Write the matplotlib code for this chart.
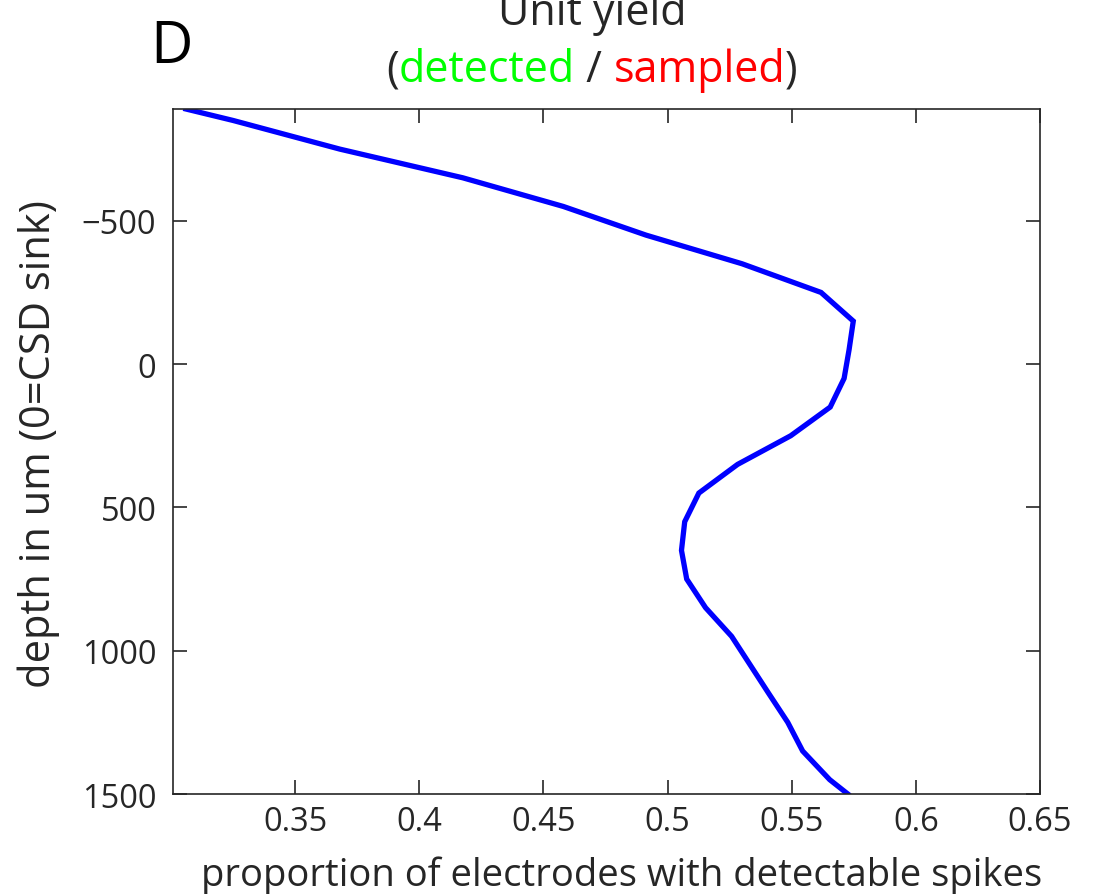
import matplotlib
matplotlib.use('Agg')
import matplotlib.pyplot as plt
import numpy as np

# depth profile of unit yield
depth_um = [-890, -850, -750, -650, -550, -450, -350, -250, -150, -50,
            50, 150, 250, 350, 450, 550, 650, 750, 850, 950,
            1050, 1150, 1250, 1350, 1450, 1500]
prop_detected = [0.306, 0.325, 0.368, 0.4175, 0.458, 0.4913, 0.530, 0.5618, 0.5748, 0.5731,
                 0.5711, 0.5655, 0.5496, 0.5282, 0.5126, 0.5069, 0.5056, 0.5077, 0.5153, 0.5258,
                 0.5333, 0.5408, 0.5484, 0.5544, 0.5653, 0.5726]

x_ticks = [0.35, 0.4, 0.45, 0.5, 0.55, 0.6, 0.65]
x_tick_labels = ['0.35', '0.4', '0.45', '0.5', '0.55', '0.6', '0.65']
y_ticks = [-500, 0, 500, 1000, 1500]

TXT = '#262626'
plt.rcParams['font.family'] = ['Open Sans', 'DejaVu Sans']


def colored_line(fig, pieces, x_px, y_px, **kwargs):
    """Draw a row of differently coloured strings centred on x_px (display px)."""
    renderer = fig.canvas.get_renderer()
    texts = []
    for s, c in pieces:
        t = fig.text(0, y_px / fig.bbox.height, s, color=c, va='baseline', ha='left', **kwargs)
        texts.append(t)
    widths = [t.get_window_extent(renderer).width for t in texts]
    x = x_px - sum(widths) / 2
    for t, w in zip(texts, widths):
        t.set_x(x / fig.bbox.width)
        x += w


fig = plt.figure(figsize=(11, 8.95), dpi=100)
ax = fig.add_axes([173 / 1100, 1 - 795 / 895, (1040 - 173) / 1100, (795 - 110) / 895])

ax.plot(prop_detected, depth_um, color='#0000ff', linewidth=3.8, solid_joinstyle='miter')

ax.set_xlim(0.3008, 0.65)
ax.set_ylim(1500, -890)
ax.set_xticks(x_ticks, x_tick_labels)
ax.set_yticks(y_ticks)

ax.tick_params(direction='in', length=10, width=1.2, colors=TXT, labelsize=23.5,
               top=True, right=True)
ax.tick_params(axis='x', pad=8)
ax.tick_params(axis='y', pad=12)
for sp in ax.spines.values():
    sp.set_color(TXT)
    sp.set_linewidth(1.2)

ax.set_xlabel('proportion of electrodes with detectable spikes', fontsize=27.5, color=TXT)
ax.xaxis.label.set_va('baseline')
ax.xaxis.set_label_coords((622 - 173) / 867, -(886 - 795) / 685)
ax.set_ylabel('depth in um (0=CSD sink)', fontsize=30, color=TXT)
ax.yaxis.set_label_coords((60 - 173) / 867, (795 - 444) / 685)

# title, second line in colours
fig.text(592 / 1100, 1 - 25 / 895, 'Unit yield', ha='center', va='baseline', fontsize=31, color=TXT)
colored_line(fig, [('(', TXT), ('detected', '#00ff00'), (' / ', TXT), ('sampled', '#ff0000'), (')', TXT)],
             592, 895 - 82, fontsize=31)

fig.text(150 / 1100, 1 - 63 / 895, 'D', ha='left', va='baseline', fontsize=42, color='black')

fig.savefig('out.png', dpi=100)
